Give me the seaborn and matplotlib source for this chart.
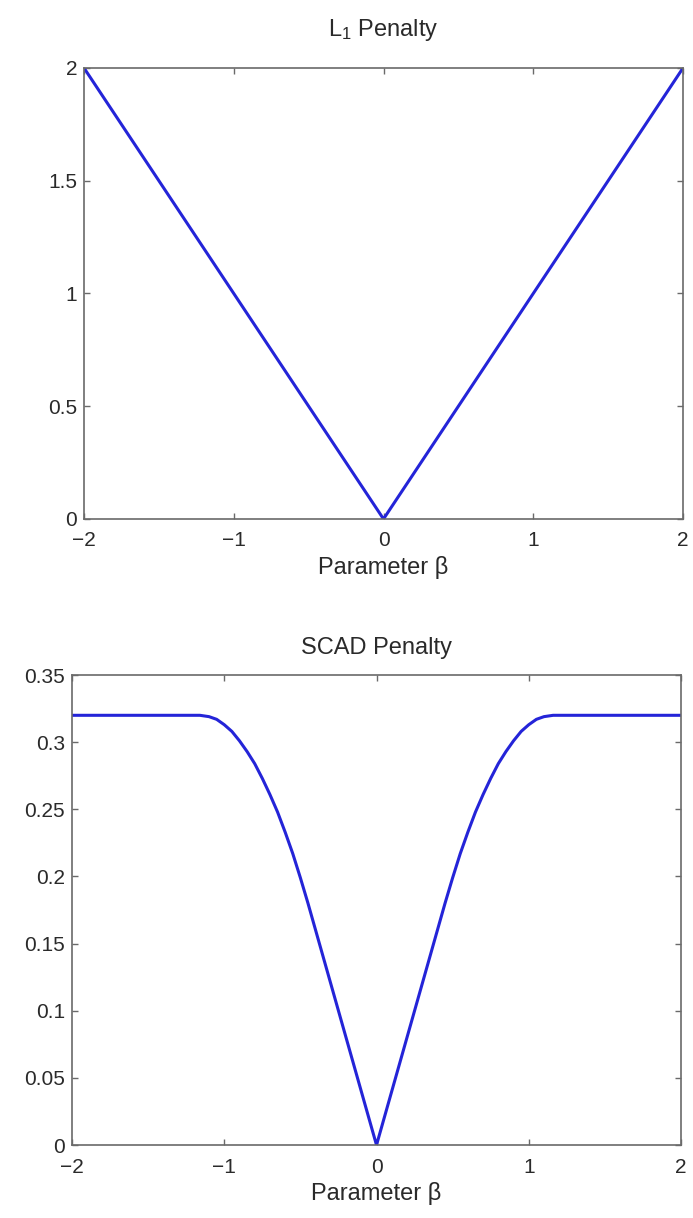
import numpy as np
import matplotlib
matplotlib.use("Agg")
import matplotlib.pyplot as plt
import seaborn as sns

# L1 penalty
l1_beta = [-2.0, 0.0, 2.0]
l1_pen = [2.0, 0.0, 2.0]

# SCAD penalty
scad_beta = [-2.0, -1.16, -1.1, -1.05, -1.0, -0.95, -0.9, -0.85, -0.8, -0.75,
             -0.7, -0.65, -0.6, -0.55, -0.5, -0.45, -0.4, -0.2, 0.0,
             0.2, 0.4, 0.45, 0.5, 0.55, 0.6, 0.65, 0.7, 0.75, 0.8,
             0.85, 0.9, 0.95, 1.0, 1.05, 1.1, 1.16, 2.0]
scad_pen = [0.32, 0.32, 0.319, 0.317, 0.313, 0.308, 0.301, 0.293, 0.284, 0.273,
            0.261, 0.248, 0.233, 0.217, 0.199, 0.180, 0.160, 0.080, 0.0,
            0.080, 0.160, 0.180, 0.199, 0.217, 0.233, 0.248, 0.261, 0.273, 0.284,
            0.293, 0.301, 0.308, 0.313, 0.317, 0.319, 0.32, 0.32]

x_ticks = [-2, -1, 0, 1, 2]
x_ticklabels = ['\u22122', '\u22121', '0', '1', '2']
l1_yticks = [0, 0.5, 1, 1.5, 2]
l1_yticklabels = ['0', '0.5', '1', '1.5', '2']
scad_yticks = [0, 0.05, 0.1, 0.15, 0.2, 0.25, 0.3, 0.35]
scad_yticklabels = ['0', '0.05', '0.1', '0.15', '0.2', '0.25', '0.3', '0.35']

sns.set_theme(style="white")
plt.rcParams['font.family'] = ['Liberation Sans', 'DejaVu Sans']
plt.rcParams['mathtext.fontset'] = 'custom'
plt.rcParams['mathtext.rm'] = 'Liberation Sans'

line_color = '#2424d8'
frame_color = '#6a6a6a'
text_color = '#2a2a2a'

fig = plt.figure(figsize=(6.93, 12.18), dpi=100)
ax1 = fig.add_axes([0.1212, 0.5739, 0.8644, 0.3703])
ax2 = fig.add_axes([0.1039, 0.0599, 0.8788, 0.3859])


def style_axes(ax, xticks, xlabels, yticks, ylabels, ylim, title, title_pad):
    ax.set_xlim(-2, 2)
    ax.set_ylim(*ylim)
    ax.set_xticks(xticks)
    ax.set_xticklabels(xlabels)
    ax.set_yticks(yticks)
    ax.set_yticklabels(ylabels)
    ax.tick_params(direction='in', length=4, width=1, color=frame_color,
                   labelcolor=text_color, labelsize=15,
                   top=True, right=True, bottom=True, left=True)
    ax.tick_params(axis='x', pad=9)
    ax.tick_params(axis='y', pad=5)
    for s in ax.spines.values():
        s.set_color(frame_color)
        s.set_linewidth(1.2)
        s.set_visible(True)
    ax.set_xlabel('Parameter \u03b2', fontsize=17, color=text_color, labelpad=4)
    ax.set_ylabel('')
    ax.set_title(title, fontsize=17, color=text_color, pad=title_pad)


sns.lineplot(x=l1_beta, y=l1_pen, ax=ax1, color=line_color, linewidth=2.2)
style_axes(ax1, x_ticks, x_ticklabels, l1_yticks, l1_yticklabels, (0, 2),
           r'$\mathregular{L_1}$ Penalty', 23)

sns.lineplot(x=scad_beta, y=scad_pen, ax=ax2, color=line_color, linewidth=2.2)
style_axes(ax2, x_ticks, x_ticklabels, scad_yticks, scad_yticklabels, (0, 0.35),
           'SCAD Penalty', 15)

fig.savefig('out.png', dpi=100)
